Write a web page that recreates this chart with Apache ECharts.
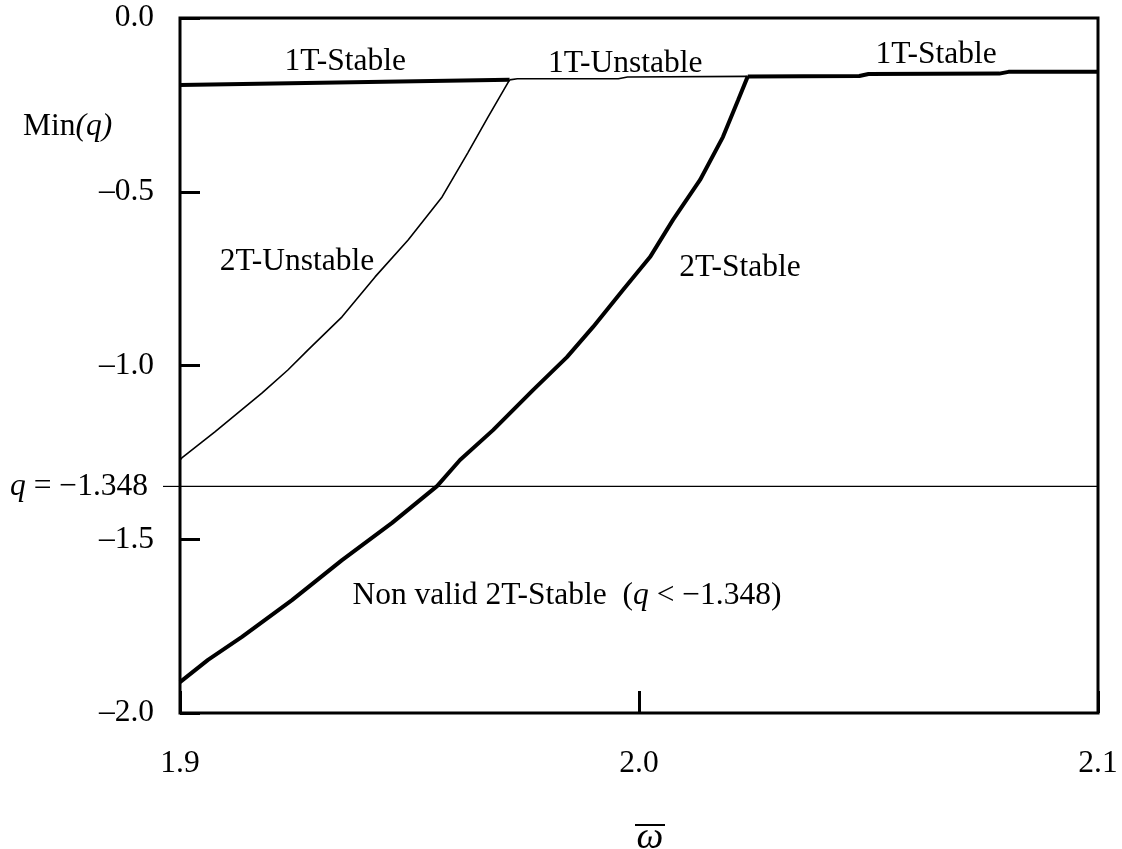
<!DOCTYPE html>
<html>
<head>
<meta charset="utf-8">
<script src="https://cdn.jsdelivr.net/npm/echarts@6/dist/echarts.min.js"></script>
<style>
html,body{margin:0;padding:0;background:#fff;}
#chart{width:1122px;height:849px;}
</style>
</head>
<body>
<div id="chart"></div>
<script>
// ---- Data ----
const xTicks = [1.9, 2.0, 2.1];
const yTicks = [0.0, -0.5, -1.0, -1.5, -2.0];
const qLimit = -1.348;

const oneTStableLeft = [[1.9, -0.193], [1.9718, -0.178]];
const oneTUnstable = [[1.9718, -0.178], [1.9735, -0.175], [1.9955, -0.175], [1.9975, -0.170], [2.0237, -0.168]];
const oneTStableRight = [[2.0237, -0.168], [2.0480, -0.167], [2.0500, -0.161], [2.0785, -0.160], [2.0805, -0.155], [2.1, -0.155]];

const twoTUnstable = [
  [1.9, -1.272], [1.9004, -1.266], [1.9076, -1.191], [1.9179, -1.079], [1.9235, -1.013],
  [1.9279, -0.955], [1.9353, -0.860], [1.9425, -0.745], [1.9497, -0.639], [1.9571, -0.515],
  [1.9627, -0.388], [1.9671, -0.285], [1.9718, -0.178]
];
const twoTStable = [
  [1.9, -1.911], [1.9061, -1.847], [1.9135, -1.781], [1.9244, -1.675], [1.9353, -1.560],
  [1.9462, -1.453], [1.9560, -1.347], [1.9610, -1.272], [1.9682, -1.186], [1.9769, -1.071],
  [1.9843, -0.976], [1.9900, -0.889], [1.9965, -0.783], [2.0024, -0.688], [2.0074, -0.581],
  [2.0133, -0.466], [2.0183, -0.342], [2.0216, -0.236], [2.0237, -0.168]
];

const annotationNames = ['1T-Stable', '1T-Unstable', '1T-Stable ', '2T-Unstable', '2T-Stable', 'Non valid 2T-Stable  ({i|q} < −1.348)'];
const annotationAt = [[1.936, -0.127], [1.997, -0.132], [2.0656, -0.106], [1.9255, -0.702], [2.022, -0.719], [1.9843, -1.663]];

// ---- Chart ----
const FONT = 'Liberation Serif';
const FS = 31.5;
const chart = echarts.init(document.getElementById('chart'), null, {renderer: 'canvas'});

const fmtY = v => (v < 0 ? '–' : '') + Math.abs(v).toFixed(1);

const option = {
  backgroundColor: '#fff',
  animation: false,
  grid: {
    left: 180, top: 18, right: 24, bottom: 136,
    show: true, borderColor: '#000', borderWidth: 3, backgroundColor: 'transparent'
  },
  xAxis: {
    type: 'value', min: xTicks[0], max: xTicks[xTicks.length - 1], interval: 0.1,
    position: 'bottom',
    axisLine: {show: false, onZero: false},
    axisTick: {show: true, inside: true, length: 22, lineStyle: {color: '#000', width: 3}},
    splitLine: {show: false},
    axisLabel: {
      margin: 35, color: '#000', fontFamily: FONT, fontSize: FS,
      formatter: v => v.toFixed(1), showMinLabel: true, showMaxLabel: true
    }
  },
  yAxis: {
    type: 'value', min: yTicks[yTicks.length - 1], max: yTicks[0], interval: 0.5,
    position: 'left',
    axisLine: {show: false, onZero: false},
    axisTick: {show: true, inside: true, length: 20, lineStyle: {color: '#000', width: 3}},
    splitLine: {show: false},
    axisLabel: {margin: 26, color: '#000', fontFamily: FONT, fontSize: FS, formatter: fmtY}
  },
  series: [
    {type: 'line', data: oneTStableLeft, symbol: 'none', lineStyle: {color: '#000', width: 4}},
    {type: 'line', data: oneTUnstable, symbol: 'none', lineStyle: {color: '#000', width: 1.6}},
    {type: 'line', data: oneTStableRight, symbol: 'none', lineStyle: {color: '#000', width: 4}},
    {type: 'line', data: twoTUnstable, symbol: 'none', lineStyle: {color: '#000', width: 1.6}},
    {type: 'line', data: twoTStable, symbol: 'none', lineStyle: {color: '#000', width: 4}},
    {type: 'line', data: [[xTicks[0], qLimit], [xTicks[xTicks.length - 1], qLimit]], symbol: 'none',
      lineStyle: {color: '#000', width: 1.2}},
    {
      type: 'scatter', symbolSize: 1, silent: true,
      itemStyle: {opacity: 1, color: 'rgba(0,0,0,0)'},
      data: annotationNames.map((n, i) => ({name: n, value: annotationAt[i]})),
      label: {
        show: true, position: 'inside', color: '#000', opacity: 1, fontFamily: FONT, fontSize: FS,
        formatter: p => p.name,
        rich: {i: {fontStyle: 'italic', fontFamily: FONT, fontSize: FS, color: '#000'}}
      }
    }
  ]
};
chart.setOption(option);

const yq = chart.convertToPixel({gridIndex: 0}, [xTicks[0], qLimit])[1];
chart.setOption({
  graphic: [
    {type: 'line', shape: {x1: 163, y1: yq, x2: 181, y2: yq}, style: {stroke: '#000', lineWidth: 1.2}},
    {type: 'text', x: 148, y: yq, style: {
      text: '{i|q} = −1.348', align: 'right', verticalAlign: 'middle',
      font: FS + 'px "Liberation Serif"', fill: '#000',
      rich: {i: {fontStyle: 'italic', fontFamily: FONT, fontSize: FS, fill: '#000'}}
    }},
    {type: 'text', x: 23, y: 127, style: {
      text: 'Min{i|(q)}', align: 'left', verticalAlign: 'middle',
      font: FS + 'px "Liberation Serif"', fill: '#000',
      rich: {i: {fontStyle: 'italic', fontFamily: FONT, fontSize: FS, fill: '#000'}}
    }},
    {type: 'text', x: 650, y: 838, style: {
      text: 'ω', align: 'center', verticalAlign: 'middle',
      font: 'italic 38px "Liberation Serif"', fill: '#000'
    }},
    {type: 'line', shape: {x1: 635, y1: 825, x2: 665, y2: 825}, style: {stroke: '#000', lineWidth: 2}}
  ]
});
</script>
</body>
</html>
